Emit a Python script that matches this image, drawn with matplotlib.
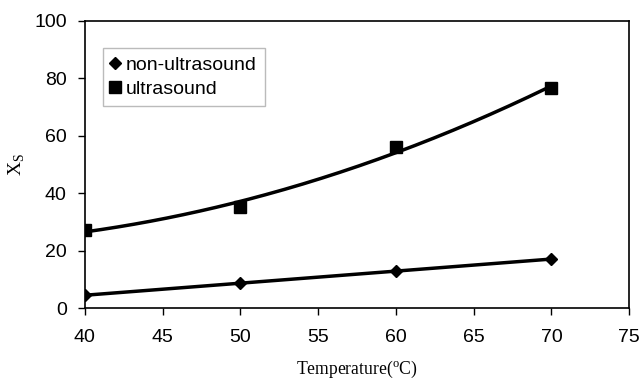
import numpy as np
import matplotlib
matplotlib.use('Agg')
import matplotlib.pyplot as plt

temp = [40, 50, 60, 70]
non_ultra = [4.5, 8.7, 12.9, 17.1]
ultra = [27.2, 35.2, 56.1, 76.7]

plt.rcParams['font.family'] = ['Liberation Sans', 'DejaVu Sans']

fig = plt.figure(figsize=(6.42, 3.80), dpi=100)
ax = fig.add_axes([0.132, 0.189, 0.848, 0.756])

# 二次趋势线
xs = np.linspace(40, 70, 200)
for y in (non_ultra, ultra):
    p = np.polyfit(temp, y, 2)
    ax.plot(xs, np.polyval(p, xs), color='black', lw=2.5, zorder=2)

ax.plot(temp, non_ultra, 'D', color='black', ms=6.5, label='non-ultrasound', zorder=3)
ax.plot(temp, ultra, 's', color='black', ms=8, label='ultrasound', zorder=3)

ax.set_xlim(40, 75)
ax.set_ylim(0, 100)
ax.set_xticks(range(40, 76, 5))
ax.set_yticks(range(0, 101, 20))
ax.tick_params(direction='out', length=5, width=1, labelsize=14, top=False, right=False)
ax.tick_params(axis='x', pad=10)
ax.tick_params(axis='y', pad=8)
for s in ax.spines.values():
    s.set_linewidth(1.2)

ax.set_xlabel('Temperature($^\\mathregular{o}$C)', family='Liberation Serif', fontsize=12.7, labelpad=9)
ax.set_ylabel('X$_\\mathregular{S}$', family='Liberation Serif', fontsize=14, labelpad=5)

leg = ax.legend(loc='upper left', bbox_to_anchor=(0.033, 0.905), fontsize=14, frameon=True,
                fancybox=False, handlelength=0.5, handletextpad=0.3, borderpad=0.4,
                labelspacing=0.35, borderaxespad=0)
leg.get_frame().set_edgecolor('#aaaaaa')
leg.get_frame().set_linewidth(1)

fig.savefig('out.png', dpi=100)
